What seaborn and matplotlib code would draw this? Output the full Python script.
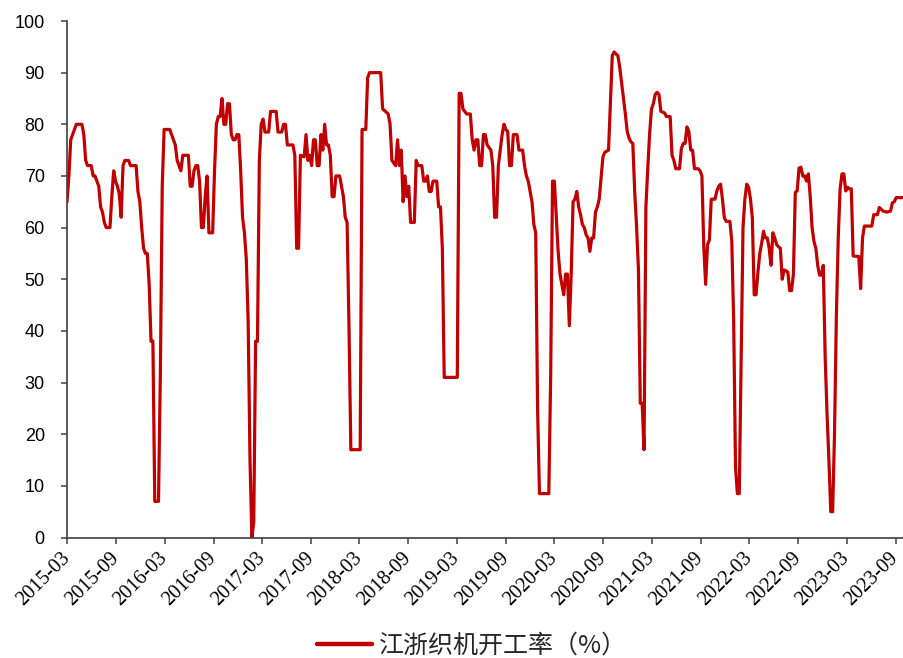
import numpy as np
import pandas as pd
import matplotlib
matplotlib.use("Agg")
import matplotlib.pyplot as plt
import matplotlib.transforms as mtrans
from matplotlib.lines import Line2D
import seaborn as sns

start_date = "2015-03-01"
week_no = [0, 1, 2, 3, 4, 5, 8, 9, 10, 11, 13, 14, 15, 16, 17, 18, 19, 20, 21, 23,
           24, 25, 26, 27, 28, 29, 30, 31, 33, 34, 37, 38, 39, 40, 41, 42, 43, 44, 45, 46,
           47, 49, 50, 51, 52, 55, 56, 57, 58, 59, 60, 61, 62, 65, 66, 67, 68, 69, 70, 71,
           72, 73, 74, 75, 76, 78, 79, 80, 81, 82, 83, 84, 85, 86, 87, 88, 89, 90, 91, 92,
           93, 94, 95, 96, 97, 98, 99, 100, 101, 102, 103, 104, 105, 106, 108, 109, 112, 113, 115, 116,
           117, 118, 121, 122, 123, 124, 125, 127, 128, 129, 130, 131, 132, 133, 134, 135, 136, 137, 138, 139,
           140, 141, 142, 143, 144, 146, 147, 148, 149, 150, 151, 152, 157, 158, 160, 161, 162, 168, 169, 172,
           173, 174, 176, 177, 178, 179, 180, 181, 182, 183, 184, 186, 187, 188, 190, 191, 192, 193, 194, 195,
           196, 198, 199, 200, 201, 202, 209, 210, 211, 212, 214, 216, 217, 218, 219, 220, 221, 222, 223, 224,
           225, 227, 228, 229, 230, 231, 232, 233, 234, 235, 236, 237, 238, 239, 241, 242, 244, 245, 246, 247,
           248, 249, 250, 251, 252, 253, 258, 259, 260, 261, 262, 263, 264, 265, 266, 267, 268, 269, 270, 271,
           272, 273, 274, 275, 276, 277, 278, 279, 280, 281, 282, 283, 284, 285, 286, 287, 288, 290, 291, 292,
           293, 294, 295, 296, 297, 298, 299, 300, 301, 302, 303, 304, 305, 306, 307, 308, 309, 310, 311, 312,
           313, 314, 315, 316, 317, 318, 320, 321, 323, 324, 325, 326, 328, 329, 330, 331, 332, 333, 334, 335,
           336, 338, 339, 340, 341, 342, 343, 344, 345, 347, 348, 349, 350, 351, 352, 353, 355, 356, 357, 358,
           359, 360, 361, 362, 363, 364, 365, 366, 367, 368, 369, 370, 371, 372, 373, 374, 375, 376, 377, 378,
           379, 380, 381, 382, 383, 384, 386, 387, 388, 389, 390, 391, 392, 393, 394, 395, 396, 397, 398, 399,
           400, 401, 402, 403, 404, 405, 406, 407, 408, 409, 410, 411, 412, 413, 414, 415, 416, 417, 418, 419,
           420, 421, 424, 425, 426, 427, 431, 432, 434, 435, 437, 439, 441, 442, 443, 444, 448]
rate = [65, 70, 77, 78, 79, 80, 80, 78, 73, 72, 72, 70, 70, 69, 68, 64, 63, 61, 60, 60,
        66, 71, 69, 68, 66.5, 62, 72, 73, 73, 72, 72, 67, 65, 60, 56, 55, 55, 49, 38, 38,
        7, 7, 32, 68, 79, 79, 78, 77, 76, 73, 72, 71, 74, 74, 68, 68, 71, 72, 72, 69,
        60, 60, 66, 70, 59, 59, 71, 80, 81.5, 81.5, 85, 80, 80, 84, 84, 78, 77, 77, 78, 78,
        71, 62, 59, 54, 42, 15, 0, 3, 38, 38, 73, 80, 81, 78.5, 78.5, 82.5, 82.5, 78.5, 78.5, 80,
        80, 76, 76, 74, 56, 56, 74, 73.7, 78, 73, 74, 72, 77, 77, 72, 72, 78, 75, 80, 76,
        76, 74, 66, 66, 70, 70, 68, 66, 62, 61, 41, 17, 17, 79, 79, 89, 90, 90, 83, 82,
        80, 73, 72, 77, 72, 75, 65, 70, 66, 68, 61, 61, 73, 72, 72, 69, 69, 70, 67, 67,
        69, 69, 64, 64, 56, 31, 31, 86, 86, 83, 82, 82, 77, 75, 77, 77, 72, 72, 78, 78,
        76, 75, 72, 62, 62, 72, 75, 78, 80, 79, 78.6, 72, 72, 78, 78, 75, 75, 72, 70, 69,
        67, 65, 60.6, 59, 25, 8.5, 8.5, 31, 69, 69, 62, 55.4, 51, 49, 47, 51, 51, 41, 51, 65,
        65.5, 67, 64, 62.5, 60.6, 60, 58.6, 58, 55.4, 58, 58, 63, 64, 65.5, 69.5, 73.7, 74.6, 75, 84.4, 93.3,
        94, 93.6, 93.3, 91, 88, 85, 82, 78.6, 77.3, 76.6, 76.3, 67, 60.3, 52, 26, 26, 17, 64, 71.4, 78.2,
        83, 84, 85.8, 86.2, 85.8, 82.5, 82.2, 81.5, 81.5, 74, 73, 71.4, 71.4, 75.3, 76.3, 76.3, 79.5, 78.6, 75, 75,
        71.4, 71.4, 71, 70, 56.3, 49, 56.7, 57.6, 65.5, 65.5, 67.1, 68, 68.4, 65.5, 61.9, 61.2, 61.2, 57.3, 42, 13.5,
        8.5, 8.5, 35, 60, 65.5, 68.4, 67.8, 65.5, 61.9, 47, 47, 51.4, 55, 57, 59.3, 58, 58, 56, 52.7, 59,
        58, 56.7, 56.3, 56, 50, 51.8, 51.4, 47.8, 47.8, 51, 66.8, 67.1, 71.5, 71.7, 70, 70, 69, 70.4, 66, 60,
        57.3, 56, 52.7, 50.8, 50.8, 52.7, 35, 24, 15, 5, 5, 20, 43, 58, 67.5, 70.4, 70.4, 67.1, 67.8, 67.5,
        67.5, 54.5, 54.4, 48.2, 58, 60.3, 60.3, 62.5, 62.5, 63.9, 63.2, 63, 63.2, 64.8, 65, 65.8, 65.8]
series_name = "江浙织机开工率（%）"
y_ticks = list(range(0, 101, 10))
x_tick_dates = pd.date_range("2015-03-01", "2023-09-01", freq="6MS")
x_tick_labels = [d.strftime("%Y-%m") for d in x_tick_dates]

# ---------------- style ----------------
sns.set_style("white")
plt.rcParams["font.family"] = ["Liberation Sans", "Noto Sans CJK SC", "DejaVu Sans"]
LINE_COLOR = "#C00000"
AXIS_COLOR = "#404040"

df = pd.DataFrame({
    "date": pd.Timestamp(start_date) + pd.to_timedelta(np.array(week_no) * 7, unit="D"),
    "rate": rate,
})

fig = plt.figure(figsize=(9.04, 6.58), dpi=100)
ax = fig.add_axes([67 / 904, 1 - 537.5 / 658, (903.6 - 67) / 904, (537.5 - 21) / 658])

sns.lineplot(data=df, x="date", y="rate", ax=ax, color=LINE_COLOR,
             linewidth=2.3, legend=False)

ax.set_xlim(df["date"].iloc[0], df["date"].iloc[-1])
ax.set_ylim(0, 100)
ax.set_yticks(y_ticks)
ax.set_yticklabels([str(v) for v in y_ticks], fontsize=13, color="black")
ax.set_xticks(x_tick_dates)
ax.set_xticklabels(x_tick_labels, rotation=45, ha="right", va="center",
                   rotation_mode="anchor", fontfamily="Liberation Serif",
                   fontsize=14.5, color="black")
offset = mtrans.ScaledTranslation(4 / 100, 0, fig.dpi_scale_trans)
for lab in ax.get_xticklabels():
    lab.set_transform(lab.get_transform() + offset)

ax.set_xlabel("")
ax.set_ylabel("")
for side in ["top", "right"]:
    ax.spines[side].set_visible(False)
for side in ["left", "bottom"]:
    ax.spines[side].set_color(AXIS_COLOR)
    ax.spines[side].set_linewidth(1.2)
ax.tick_params(axis="both", which="major", direction="out", length=4,
               width=1.1, color=AXIS_COLOR, bottom=True, left=True)
ax.tick_params(axis="y", pad=12)
ax.tick_params(axis="x", pad=9)
ax.grid(False)

handle = Line2D([], [], color=LINE_COLOR, linewidth=3.2)
fig.legend(handles=[handle], labels=[series_name], loc="center",
           bbox_to_anchor=(472 / 904, 12 / 658), frameon=False,
           handlelength=2.2, handletextpad=0.25,
           prop={"family": ["Noto Sans CJK SC", "DejaVu Sans"], "size": 18})

fig.savefig("out.png", dpi=100)
